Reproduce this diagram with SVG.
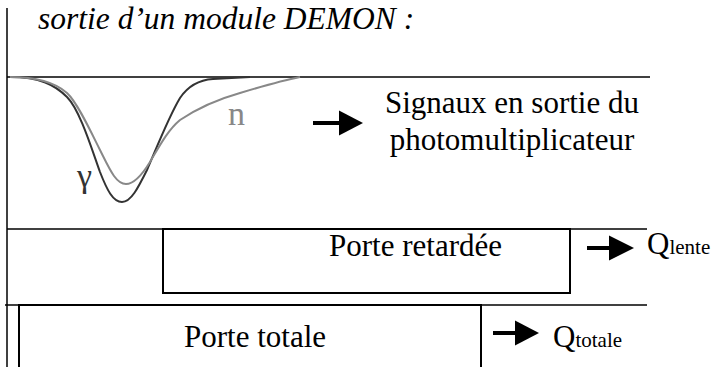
<svg xmlns="http://www.w3.org/2000/svg" width="712" height="367" viewBox="0 0 712 367">
<defs>
<style>
.t{font-family:"Liberation Serif","Times New Roman","DejaVu Serif",serif;font-size:31px;fill:#000}
.sub{font-size:21px}
.ln{stroke:#000;stroke-width:1.5;fill:none}
.box{stroke:#000;stroke-width:2;fill:none}
.shaft{stroke:#000;stroke-width:4;fill:none}
</style>
</defs>
<rect width="712" height="367" fill="#fff"/>
<g id="frame">
<line class="ln" x1="7" y1="8" x2="7" y2="367"/>
<line class="ln" x1="7" y1="77" x2="650" y2="77"/>
<line class="ln" x1="7" y1="229" x2="647" y2="229"/>
<line class="ln" x1="5" y1="305" x2="647" y2="305"/>
</g>
<text class="t" x="38" y="29" font-style="italic" style="font-size:31.5px">sortie d’un module DEMON :</text>
<g id="signals">
<path d="M10,77 C40,77 55,85 67,97 C80,110 92,150 100,172 C107,190 113,202 122,202 C131,202 138,188 147,170 C155,152 168,118 180,98 C188,86 198,80 213,79 L250,77" stroke="#333" stroke-width="2" fill="none"/>
<path d="M10,77 C40,77 58,85 67,93 C77,102 90,130 100,150 C110,170 116,184 126,184 C134,184 142,175 150,162 C160,145 168,130 180,120 C195,110 215,100 240,93 C260,87 280,81 300,77" stroke="#888" stroke-width="2" fill="none"/>
<text class="t" x="228" y="125" style="font-size:34px;fill:#888">n</text>
<text class="t" x="77" y="187" style="font-size:34px;fill:#333">γ</text>
</g>
<g id="label-signaux">
<text class="t" x="512" y="113" text-anchor="middle">Signaux en sortie du</text>
<text class="t" x="512" y="150" text-anchor="middle">photomultiplicateur</text>
</g>
<g id="porte-retardee">
<rect class="box" x="163" y="229" width="407" height="64"/>
<text class="t" x="329" y="256">Porte retardée</text>
</g>
<g id="porte-totale">
<path class="box" d="M19,367 V305 H481 V367"/>
<text class="t" x="184" y="347">Porte totale</text>
</g>
<g id="q-lente">
<text class="t" x="647" y="254">Q<tspan class="sub">lente</tspan></text>
</g>
<g id="q-totale">
<text class="t" x="553" y="347">Q<tspan class="sub">totale</tspan></text>
</g>
<g id="connectors">
<line class="shaft" x1="313" y1="123" x2="341" y2="123"/>
<polygon points="339,110.5 363,123 339,135.5" fill="#000"/>
<line class="shaft" x1="587" y1="248" x2="611" y2="248"/>
<polygon points="609,235.5 634,248 609,260.5" fill="#000"/>
<line class="shaft" x1="493" y1="333" x2="517" y2="333"/>
<polygon points="515,320.5 539,333 515,345.5" fill="#000"/>
</g>
</svg>
